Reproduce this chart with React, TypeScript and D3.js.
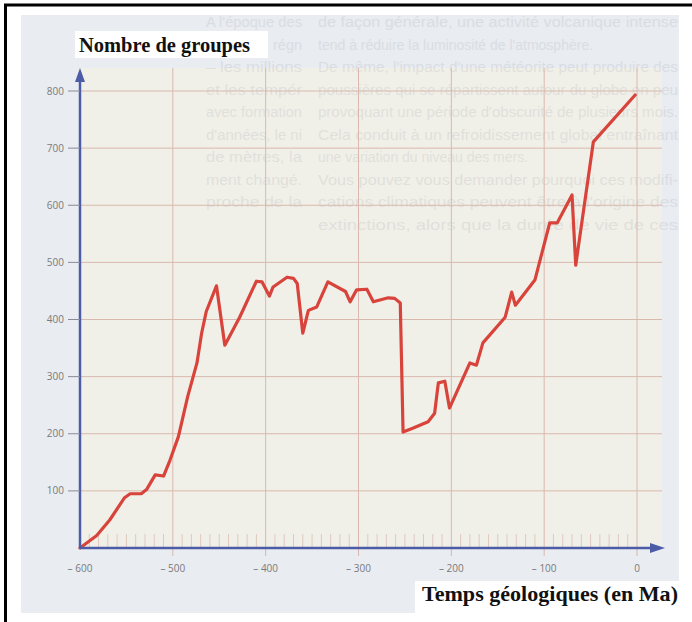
import * as d3 from "d3";

// readings from the figure: age in Ma (negative = past), number of groups
const ages = [
  -600, -582, -568, -552, -546, -534, -528, -519, -510, -503, -494, -484, -474,
  -469, -464, -453, -444, -428, -410, -404, -396, -392, -377, -370, -366, -360,
  -354, -345, -333, -314, -309, -302, -291, -284, -268, -261, -255, -252, -241,
  -225, -218, -214, -207, -202, -180, -173, -166, -142, -135, -131, -110, -94,
  -86, -70, -66, -47, -2,
];
const groups = [
  0, 22, 49, 88, 95, 95, 103, 128, 126, 154, 195, 265, 324, 376, 414, 459, 355,
  404, 467, 466, 441, 457, 474, 472, 463, 376, 416, 422, 466, 449, 431, 452,
  453, 431, 438, 437, 429, 203, 210, 221, 236, 289, 292, 245, 324, 320, 359,
  404, 448, 425, 469, 569, 569, 618, 495, 711, 793,
];

const yTicks = [100, 200, 300, 400, 500, 600, 700, 800];
const xTicks = [-600, -500, -400, -300, -200, -100, 0];
const yTitle = "Nombre de groupes";
const xTitle = "Temps géologiques (en Ma)";

// faded page text showing through the scan
const pageRight = [
  "de façon générale, une activité volcanique intense",
  "tend à réduire la luminosité de l'atmosphère.",
  "De même, l'impact d'une météorite peut produire des",
  "poussières qui se répartissent autour du globe en peu",
  "provoquant une période d'obscurité de plusieurs mois.",
  "Cela conduit à un refroidissement global entraînant",
  "une variation du niveau des mers.",
  "Vous pouvez vous demander pourquoi ces modifi-",
  "cations climatiques peuvent être à l'origine des",
  "extinctions, alors que la durée de vie de ces",
];
const pageMiddle = [
  "A l'époque des",
  "régn",
  "– les millions",
  "et les tempér",
  "avec formation",
  "d'années, le ni",
  "de mètres, la",
  "ment changé.",
  "proche de la",
];

const W = 692;
const H = 622;
const axisColor = "#4d5ca6";
const gridColor = "#d9b8ae";

export default function App() {
  const x = d3.scaleLinear().domain([-600, 0]).range([80, 637]);
  const y = d3.scaleLinear().domain([0, 800]).range([548, 91]);

  const points = ages.map((a, i) => [a, groups[i]] as [number, number]);
  const line = d3
    .line<[number, number]>()
    .x((d) => x(d[0]))
    .y((d) => y(d[1]));

  const minor = d3.range(-590, 0, 10).filter((v) => v % 100 !== 0);
  const x0 = x(-600);
  const y0 = y(0);

  return (
    <svg
      width={W}
      height={H}
      style={{ position: "absolute", left: 0, top: 0, background: "#fff" }}
    >
      {/* scanned page background */}
      <rect x={21} y={15} width={658} height={598} fill="#e9ecf1" />
      <rect x={x0} y={68} width={662 - x0} height={y0 - 68} fill="#f1f0e8" />

      {/* bleed-through text */}
      <g
        fontFamily="Liberation Sans, Arial, sans-serif"
        fontSize={14}
        fill="#9ca2ad"
        opacity={0.2}
      >
        {pageRight.map((t, i) => (
          <text
            key={i}
            x={318}
            y={27 + i * 22.5}
            textLength={i === 1 || i === 6 ? undefined : 360}
            lengthAdjust="spacingAndGlyphs"
          >
            {t}
          </text>
        ))}
        {pageMiddle.map((t, i) => (
          <text
            key={i}
            x={i === 1 ? 273 : 206}
            y={27 + i * 22.5}
            textLength={i === 1 ? 29 : 96}
            lengthAdjust="spacingAndGlyphs"
          >
            {t}
          </text>
        ))}
      </g>

      {/* grid */}
      {yTicks.map((t) => (
        <line
          key={t}
          x1={x0}
          x2={662}
          y1={y(t)}
          y2={y(t)}
          stroke={gridColor}
          strokeWidth={1}
        />
      ))}
      {xTicks
        .filter((t) => t !== -600)
        .map((t) => (
          <line
            key={t}
            x1={x(t)}
            x2={x(t)}
            y1={68}
            y2={y0 + 8}
            stroke={gridColor}
            strokeWidth={1}
          />
        ))}
      {minor.map((t) => (
        <line
          key={t}
          x1={x(t)}
          x2={x(t)}
          y1={y0 - 14}
          y2={y0}
          stroke="#e0c8c0"
          strokeWidth={1}
        />
      ))}

      {/* data */}
      <path
        d={line(points) ?? undefined}
        fill="none"
        stroke="#d8443b"
        strokeWidth={3.2}
        strokeLinejoin="round"
        strokeLinecap="round"
      />

      {/* axes */}
      <line x1={x0} x2={x0} y1={y0} y2={80} stroke={axisColor} strokeWidth={2.5} />
      <path
        d={`M${x0 - 5},${82} L${x0},${68} L${x0 + 5},${82} Z`}
        fill={axisColor}
      />
      <line x1={x0} x2={652} y1={y0} y2={y0} stroke={axisColor} strokeWidth={2.5} />
      <path
        d={`M${650},${y0 - 5} L${665},${y0} L${650},${y0 + 5} Z`}
        fill={axisColor}
      />

      {/* tick labels */}
      <g fontFamily="Open Sans, sans-serif" fontSize={10} fill="#7a7a7a">
        {yTicks.map((t) => (
          <g key={t}>
            <line
              x1={x0 - 12}
              x2={x0}
              y1={y(t)}
              y2={y(t)}
              stroke="#8a8a9a"
              strokeWidth={1}
            />
            <text x={x0 - 16} y={y(t) + 3.5} textAnchor="end">
              {t}
            </text>
          </g>
        ))}
        {xTicks.map((t) => (
          <text key={t} x={x(t)} y={y0 + 24} textAnchor="middle">
            {t === 0 ? "0" : `– ${Math.abs(t)}`}
          </text>
        ))}
      </g>

      {/* axis titles */}
      <rect x={75} y={31} width={193} height={27} fill="#fff" />
      <text
        x={79}
        y={52}
        fontFamily="Liberation Serif, serif"
        fontWeight="bold"
        fontSize={20}
        fill="#111"
        textLength={171}
        lengthAdjust="spacingAndGlyphs"
      >
        {yTitle}
      </text>
      <rect x={415} y={581} width={277} height={41} fill="#fff" />
      <text
        x={422}
        y={601}
        fontFamily="Liberation Serif, serif"
        fontWeight="bold"
        fontSize={20}
        fill="#111"
        textLength={256}
        lengthAdjust="spacingAndGlyphs"
      >
        {xTitle}
      </text>

      {/* frame of the scan */}
      <line x1={4} x2={W} y1={5} y2={5} stroke="#000" strokeWidth={3} />
      <line x1={5.5} x2={5.5} y1={4} y2={H} stroke="#000" strokeWidth={3} />
    </svg>
  );
}
